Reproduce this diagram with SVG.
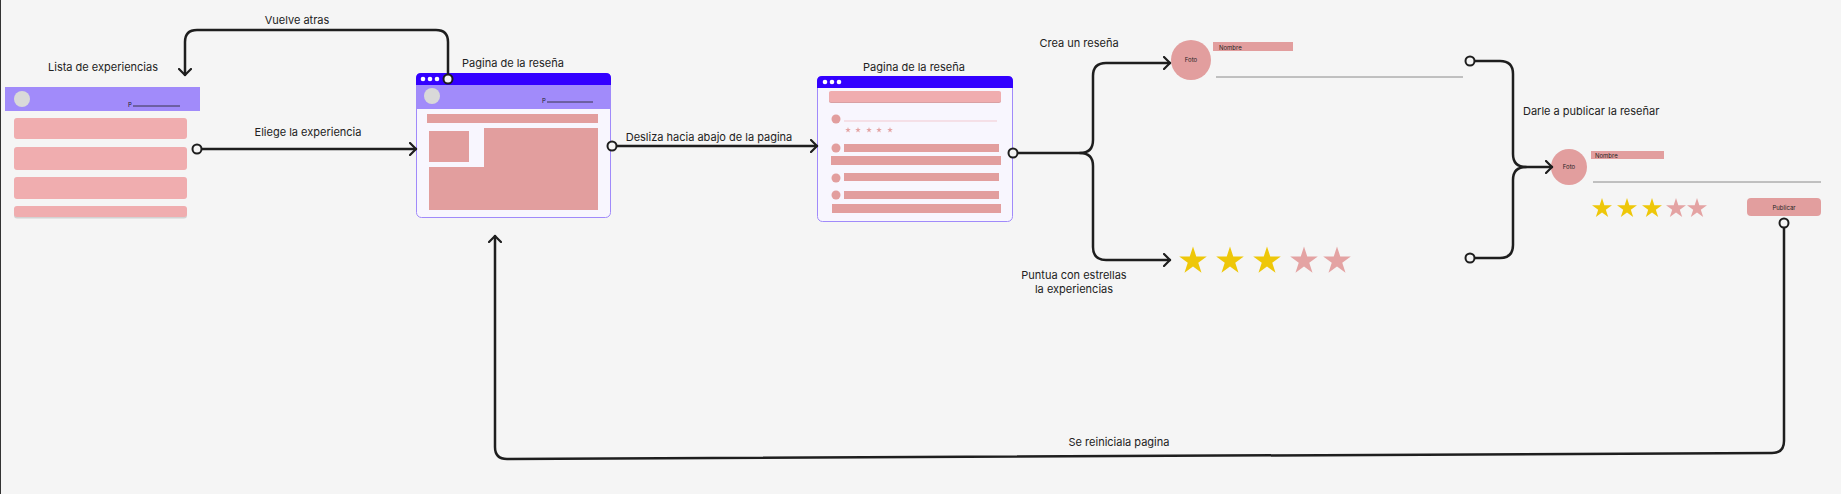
<svg xmlns="http://www.w3.org/2000/svg" width="1841" height="494" viewBox="0 0 1841 494">
<style>
.lbl{font-family:Inter,"Liberation Sans",sans-serif;font-size:11px;fill:#222222}
.tiny{font-family:Inter,"Liberation Sans",sans-serif;font-size:6px;fill:#1E1E1E}
.conn{fill:none;stroke:#1E1E1E;stroke-width:2.5;stroke-linecap:round;stroke-linejoin:round}
.end{fill:#F5F5F5;stroke:#1E1E1E;stroke-width:2}
.row{fill:#F0ADAF}
.pk{fill:#E29E9E}
.bar{fill:#3300FF}
.hdr{fill:#A18BFA}
.avatar{fill:#D9D9D9}
.win{fill:#F8F6FE;stroke:#A08AFA;stroke-width:1}
.dot{fill:#FFFFFF}
.yel{fill:#EEC709}
.spk{fill:#E4A3A3}
</style>
<defs>
<marker id="arr" viewBox="0 0 8 14" refX="7" refY="7" markerWidth="8" markerHeight="14" markerUnits="userSpaceOnUse" orient="auto">
<path d="M1,1 L7,7 L1,13" fill="none" stroke="#1E1E1E" stroke-width="2.2" stroke-linecap="round" stroke-linejoin="round"/>
</marker>
<path id="star" d="M0,-10 L2.245,-3.09 L9.511,-3.09 L3.633,1.18 L5.878,8.09 L0,3.82 L-5.878,8.09 L-3.633,1.18 L-9.511,-3.09 L-2.245,-3.09 Z"/>
</defs>
<rect x="0" y="0" width="1841" height="494" fill="#F5F5F5"/>
<line x1="0.5" y1="0" x2="0.5" y2="494" stroke="#333" stroke-width="1"/>

<g id="lista-experiencias">
<text class="lbl" x="103" y="71" text-anchor="middle">Lista de experiencias</text>
<rect class="hdr" x="5" y="87" width="195" height="24"/>
<circle class="avatar" cx="22" cy="99" r="8"/>
<text class="tiny" x="128" y="107" font-size="5">P</text>
<line x1="133" y1="106" x2="180" y2="106" stroke="#1E1E1E" stroke-width="0.8"/>
<rect class="row" x="14" y="118" width="173" height="21" rx="3"/>
<rect class="row" x="14" y="147" width="173" height="23" rx="3"/>
<rect class="row" x="14" y="177" width="173" height="22" rx="3"/>
<rect x="14" y="207.5" width="173" height="11" rx="3" fill="#BDBDBD" opacity="0.6"/>
<rect class="row" x="14" y="206" width="173" height="11" rx="3"/>
</g>

<g id="pagina-resena-1">
<text class="lbl" x="513" y="67" text-anchor="middle">Pagina de la reseña</text>
<rect class="win" x="416.5" y="73.5" width="194" height="144" rx="5"/>
<path class="bar" d="M416,85 V78 Q416,73 421,73 H606 Q611,73 611,78 V85 Z"/>
<circle class="dot" cx="423" cy="79" r="2.3"/>
<circle class="dot" cx="430" cy="79" r="2.3"/>
<circle class="dot" cx="437" cy="79" r="2.3"/>
<rect class="hdr" x="417" y="85" width="193" height="24"/>
<circle class="avatar" cx="432" cy="96" r="8"/>
<text class="tiny" x="542" y="103" font-size="5">P</text>
<line x1="547" y1="102" x2="593" y2="102" stroke="#1E1E1E" stroke-width="0.8"/>
<rect class="pk" x="427" y="114" width="171" height="9"/>
<path class="pk" d="M484,128 H598 V210 H429 V167 H484 Z"/>
<rect class="pk" x="429" y="131" width="40" height="31"/>
</g>

<g id="pagina-resena-2">
<text class="lbl" x="914" y="71" text-anchor="middle">Pagina de la reseña</text>
<rect class="win" x="817.5" y="76.5" width="195" height="145" rx="5"/>
<path class="bar" d="M817,88 V81 Q817,76 822,76 H1008 Q1013,76 1013,81 V88 Z"/>
<circle class="dot" cx="825" cy="82" r="2.3"/>
<circle class="dot" cx="832" cy="82" r="2.3"/>
<circle class="dot" cx="839" cy="82" r="2.3"/>
<rect x="829" y="92" width="172" height="11" rx="2" fill="#D9A0A3"/>
<rect class="row" x="829" y="91" width="172" height="11" rx="2"/>
<circle class="pk" cx="836" cy="119" r="4.5"/>
<line x1="844" y1="121" x2="997" y2="121" stroke="#F2C9D0" stroke-width="1"/>
<g class="spk">
<use href="#star" transform="translate(848,130) scale(0.3)"/>
<use href="#star" transform="translate(858,130) scale(0.3)"/>
<use href="#star" transform="translate(869,130) scale(0.3)"/>
<use href="#star" transform="translate(879,130) scale(0.3)"/>
<use href="#star" transform="translate(890,130) scale(0.3)"/>
</g>
<circle class="pk" cx="836" cy="148" r="4.5"/>
<rect class="pk" x="844" y="144" width="155" height="8"/>
<rect class="pk" x="831" y="156" width="170" height="9"/>
<circle class="pk" cx="836" cy="178" r="4.5"/>
<rect class="pk" x="844" y="173" width="155" height="8"/>
<circle class="pk" cx="836" cy="195" r="4.5"/>
<rect class="pk" x="844" y="191" width="155" height="8"/>
<rect class="pk" x="832" y="204" width="169" height="9"/>
</g>

<g id="crea-resena">
<text class="lbl" x="1079" y="47" text-anchor="middle">Crea un reseña</text>
<circle class="pk" cx="1191" cy="60" r="20"/>
<text class="tiny" x="1191" y="62" text-anchor="middle">Foto</text>
<rect class="pk" x="1213" y="42" width="80" height="9"/>
<text class="tiny" x="1219" y="49.5">Nombre</text>
<line x1="1216" y1="77" x2="1463" y2="77" stroke="#8A8A8A" stroke-width="1"/>
</g>

<g id="puntua-estrellas">
<text class="lbl" x="1074" y="279" text-anchor="middle">Puntua con estrellas</text>
<text class="lbl" x="1074" y="293" text-anchor="middle">la experiencias</text>
<use class="yel" href="#star" transform="translate(1193,261) scale(1.45)"/>
<use class="yel" href="#star" transform="translate(1230,261) scale(1.45)"/>
<use class="yel" href="#star" transform="translate(1267,261) scale(1.45)"/>
<use class="spk" href="#star" transform="translate(1304,261) scale(1.45)"/>
<use class="spk" href="#star" transform="translate(1337,261) scale(1.45)"/>
</g>

<g id="publicar-resena">
<text class="lbl" x="1523" y="115">Darle a publicar la reseñar</text>
<circle class="pk" cx="1569" cy="167" r="18"/>
<text class="tiny" x="1569" y="169" text-anchor="middle">Foto</text>
<rect class="pk" x="1591" y="151" width="73" height="8"/>
<text class="tiny" x="1595" y="158">Nombre</text>
<line x1="1593" y1="182" x2="1821" y2="182" stroke="#8A8A8A" stroke-width="1"/>
<use class="yel" href="#star" transform="translate(1602,208.5) scale(1.05)"/>
<use class="yel" href="#star" transform="translate(1627,208.5) scale(1.05)"/>
<use class="yel" href="#star" transform="translate(1652,208.5) scale(1.05)"/>
<use class="spk" href="#star" transform="translate(1676,208.5) scale(1.05)"/>
<use class="spk" href="#star" transform="translate(1697,208.5) scale(1.05)"/>
<rect class="pk" x="1747" y="198" width="74" height="18" rx="4"/>
<text class="tiny" x="1784" y="209.5" text-anchor="middle" font-size="6.5">Publicar</text>
</g>

<g id="connectors">
<path class="conn" d="M448,79 V42 Q448,30 436,30 H197 Q185,30 185,42 V75" marker-end="url(#arr)"/>
<text class="lbl" x="297" y="24" text-anchor="middle">Vuelve atras</text>
<path class="conn" d="M197,149 H416" marker-end="url(#arr)"/>
<text class="lbl" x="308" y="136" text-anchor="middle">Eliege la experiencia</text>
<path class="conn" d="M612,146 H817" marker-end="url(#arr)"/>
<text class="lbl" x="709" y="141" text-anchor="middle">Desliza hacia abajo de la pagina</text>
<path class="conn" d="M1013,153 H1080 Q1093,153 1093,140 V76 Q1093,63 1106,63 H1170" marker-end="url(#arr)"/>
<path class="conn" d="M1080,153 Q1093,153 1093,166 V247 Q1093,260 1106,260 H1170" marker-end="url(#arr)"/>
<path class="conn" d="M1470,61 H1500 Q1513,61 1513,74 V154 Q1513,167 1526,167 H1552" marker-end="url(#arr)"/>
<path class="conn" d="M1470,258 H1500 Q1513,258 1513,245 V180 Q1513,167 1526,167"/>
<path class="conn" d="M1784,223 V441 Q1784,453 1772,453 L507,459 Q495,459 495,447 V236" marker-end="url(#arr)"/>
<text class="lbl" x="1119" y="446" text-anchor="middle">Se reiniciala pagina</text>
<circle class="end" cx="448" cy="79" r="4.5"/>
<circle class="end" cx="197" cy="149" r="4.5"/>
<circle class="end" cx="612" cy="146" r="4.5"/>
<circle class="end" cx="1013" cy="153" r="4.5"/>
<circle class="end" cx="1470" cy="61" r="4.5"/>
<circle class="end" cx="1470" cy="258" r="4.5"/>
<circle class="end" cx="1784" cy="223" r="4.5"/>
</g>
</svg>
